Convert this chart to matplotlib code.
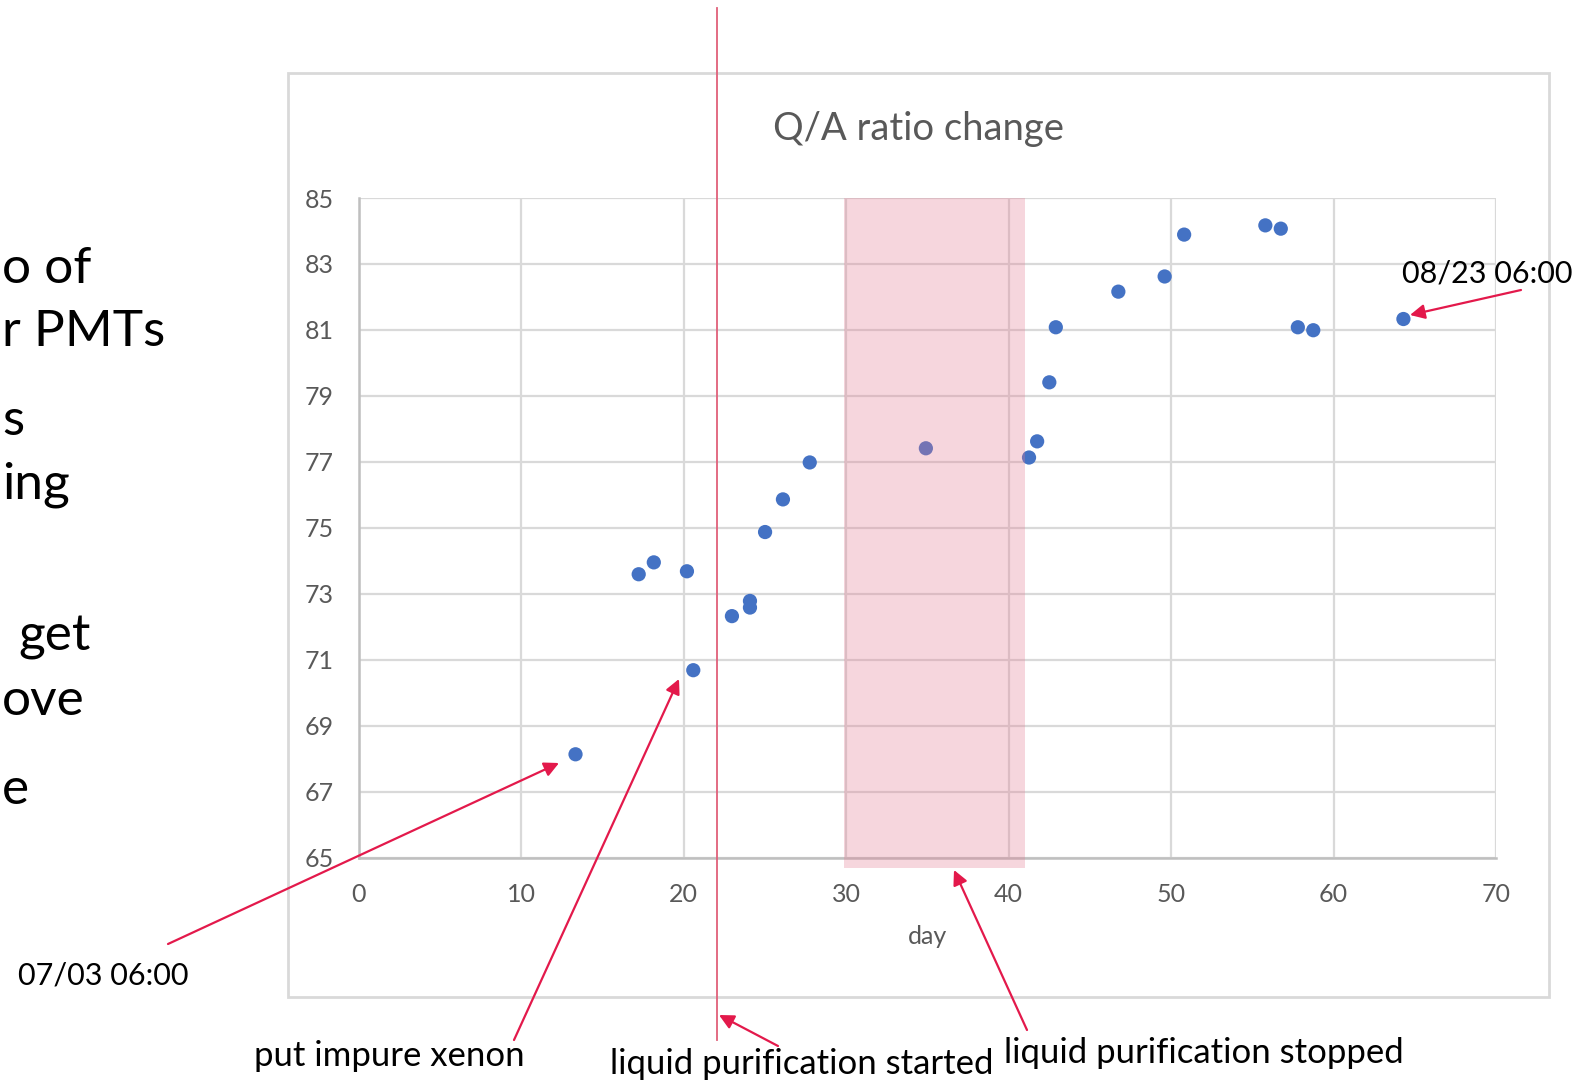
import matplotlib
matplotlib.use("Agg")
import matplotlib.pyplot as plt
import matplotlib.transforms as mtransforms
from matplotlib.patches import Rectangle, FancyArrowPatch
from matplotlib.lines import Line2D

# ---------------- data ----------------
day = [13.33, 17.22, 18.15, 20.19, 20.58, 22.96, 24.07, 24.07, 25.0, 26.1,
       27.75, 34.9, 41.25, 41.75, 42.5, 42.9, 46.75, 49.6, 50.8, 55.8,
       56.75, 57.8, 58.75, 64.3]
qa_ratio = [68.13, 73.59, 73.95, 73.68, 70.68, 72.32, 72.78, 72.58, 74.87, 75.86,
            76.98, 77.41, 77.13, 77.62, 79.41, 81.08, 82.16, 82.62, 83.89, 84.17,
            84.07, 81.08, 80.99, 81.33]
x_ticks = [0, 10, 20, 30, 40, 50, 60, 70]
y_ticks = [65, 67, 69, 71, 73, 75, 77, 79, 81, 83, 85]
purification_start_day = 22.07
purification_window = (29.85, 41.0)

side_text = ["o of", "r PMTs", "s", "ing", "get", "ove", "e"]
annotation_labels = ["07/03 06:00", "put impure xenon", "liquid purification started",
                     "liquid purification stopped", "08/23 06:00"]

# ---------------- figure ----------------
W, H = 1595, 1083
fig = plt.figure(figsize=(W / 100, H / 100), dpi=100)
fig.patch.set_facecolor("white")

def fx(px):
    return px / W

def fy(py):
    return 1 - py / H

GRAY = "#595959"
GRID = "#d9d9d9"
RED = "#e3194b"
FONT = "Lato"

# chart frame
fig.add_artist(Rectangle((fx(288), fy(997)), fx(1549) - fx(288), fy(73) - fy(997),
                         transform=fig.transFigure, facecolor="white",
                         edgecolor=GRID, lw=2, zorder=0))

ax = fig.add_axes([fx(359), fy(857.5), fx(1496) - fx(359), fy(198) - fy(857.5)])
ax.set_facecolor("white")
ax.set_xlim(0, 70)
ax.set_ylim(65, 85)
ax.set_xticks(x_ticks)
ax.set_yticks(y_ticks)
ax.set_xticklabels([str(v) for v in x_ticks])
ax.set_yticklabels([str(v) for v in y_ticks])
ax.grid(True, color=GRID, lw=1.6, zorder=0)
ax.set_axisbelow(True)
for side in ["top", "right"]:
    ax.spines[side].set_visible(False)
for side in ["left", "bottom"]:
    ax.spines[side].set_color("#bfbfbf")
    ax.spines[side].set_linewidth(1.8)
ax.tick_params(length=0, pad=18, labelsize=18, labelcolor=GRAY)
for lab in ax.get_xticklabels() + ax.get_yticklabels():
    lab.set_family(FONT)

ax.scatter(day, qa_ratio, s=105, color="#4472c4", edgecolors="none", zorder=2)

# purification window
span = ax.axvspan(purification_window[0], purification_window[1], ymin=-0.016, ymax=1.0,
                  facecolor=(228 / 255, 122 / 255, 145 / 255), alpha=0.3,
                  edgecolor="none", zorder=3)
span.set_clip_on(False)

ax.set_xlabel("day", fontsize=18, color=GRAY, family=FONT, labelpad=14)
fig.text(fx(918), fy(129), "Q/A ratio change", ha="center", va="center",
         fontsize=27.5, color=GRAY, family=FONT)

# vertical purification-start line spanning the slide
trans = mtransforms.blended_transform_factory(ax.transData, fig.transFigure)
fig.add_artist(Line2D([purification_start_day, purification_start_day],
                      [fy(8), fy(1040)], transform=trans, color="#e0607a",
                      lw=1.3, zorder=5))

# left slide text (visible fragments)
side_pos = [(2, 283), (2, 346), (2, 435), (2, 498), (18, 651), (2, 715), (2, 804)]
for s, (xl, yb) in zip(side_text, side_pos):
    fig.text(fx(xl), fy(yb), s, ha="left", va="baseline", fontsize=37,
             color="black", family=FONT)

# annotations
label_pos = [(18, 975, "center", 22), (254, 1056, "center", 25),
             (610, 1074, "baseline", 25), (1004, 1053, "center", 25),
             (1402, 273, "center", 22)]
arrows = [((168, 944), (559, 763)), ((514, 1040), (679, 679)), ((778, 1046), (719, 1015)),
          ((1027, 1030), (954, 870)), ((1521, 290), (1410, 315))]
for s, (x, y, va, fs) in zip(annotation_labels, label_pos):
    fig.text(fx(x), fy(y), s, ha="left", va=va, fontsize=fs, color="black", family=FONT)
for (x1, y1), (x2, y2) in arrows:
    fig.add_artist(FancyArrowPatch((fx(x1), fy(y1)), (fx(x2), fy(y2)),
                                   transform=fig.transFigure, arrowstyle="-|>",
                                   mutation_scale=22, color=RED, lw=1.6, zorder=6,
                                   shrinkA=0, shrinkB=0))

fig.savefig("out.png", dpi=100)
